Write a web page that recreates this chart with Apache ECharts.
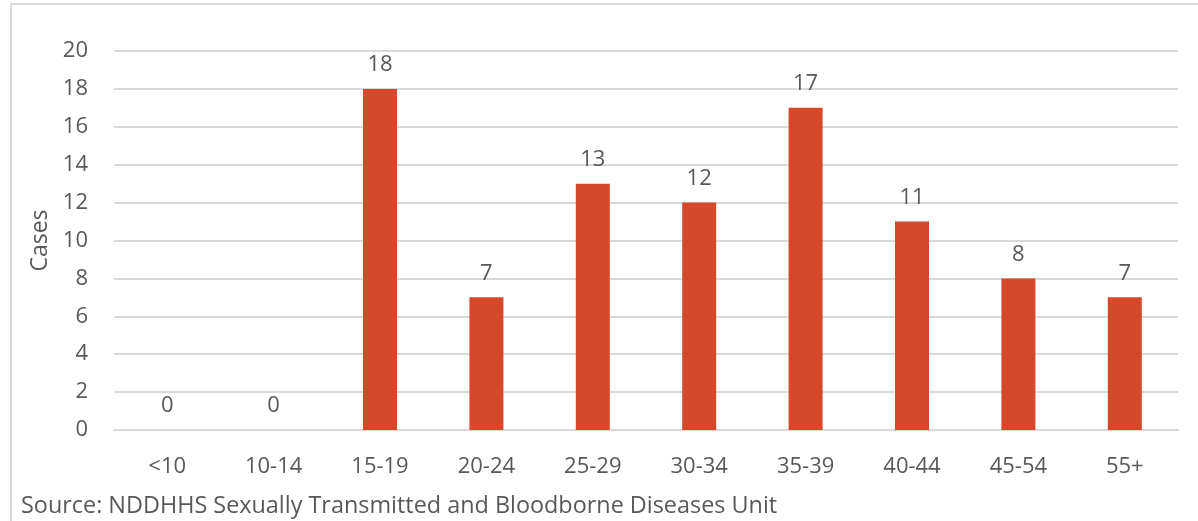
<!DOCTYPE html>
<html>
<head>
<meta charset="utf-8">
<script src="https://cdn.jsdelivr.net/npm/echarts@6/dist/echarts.min.js"></script>
<style>
  html, body { margin: 0; padding: 0; background: #ffffff; }
  #chart { width: 1198px; height: 521px; }
</style>
</head>
<body>
<div id="chart"></div>
<script>
// Age groups and case counts
const ageGroups = ['<10', '10-14', '15-19', '20-24', '25-29', '30-34', '35-39', '40-44', '45-54', '55+'];
const cases = [0, 0, 18, 7, 13, 12, 17, 11, 8, 7];
const yTicks = { min: 0, max: 20, interval: 2 };
const sourceNote = 'Source: NDDHHS Sexually Transmitted and Bloodborne Diseases Unit';

const font = '"Open Sans", "Noto Sans", sans-serif';
const textColor = '#595959';

const chart = echarts.init(document.getElementById('chart'), null, { renderer: 'canvas' });
chart.setOption({
  animation: false,
  backgroundColor: '#ffffff',
  grid: { left: 114, right: 20, top: 51, bottom: 91, containLabel: false },
  graphic: [
    {
      type: 'rect',
      shape: { x: 11, y: 4, width: 1300, height: 700 },
      style: { fill: 'none', stroke: '#d9d9d9', lineWidth: 2 },
      silent: true
    },
    {
      type: 'text',
      left: 21,
      top: 495,
      style: { text: sourceNote, fill: textColor, font: '23.4px ' + font }
    }
  ],
  xAxis: {
    type: 'category',
    data: ageGroups,
    axisLine: { show: true, lineStyle: { color: '#d9d9d9', width: 2 } },
    axisTick: { show: false },
    axisLabel: { color: textColor, fontSize: 22, fontFamily: font, margin: 26 }
  },
  yAxis: {
    type: 'value',
    min: yTicks.min,
    max: yTicks.max,
    interval: yTicks.interval,
    name: 'Cases',
    nameLocation: 'middle',
    nameGap: 61,
    nameRotate: 90,
    nameTextStyle: { color: textColor, fontSize: 23, fontFamily: font },
    axisLine: { show: false },
    axisTick: { show: false },
    axisLabel: { color: textColor, fontSize: 22, fontFamily: font, margin: 26 },
    splitLine: { lineStyle: { color: '#d9d9d9', width: 2 } }
  },
  series: [{
    type: 'bar',
    data: cases,
    barWidth: 34,
    itemStyle: { color: '#D5482A' },
    label: {
      show: true,
      position: 'top',
      distance: 13,
      color: textColor,
      fontSize: 22,
      fontFamily: font
    }
  }]
});
</script>
</body>
</html>
